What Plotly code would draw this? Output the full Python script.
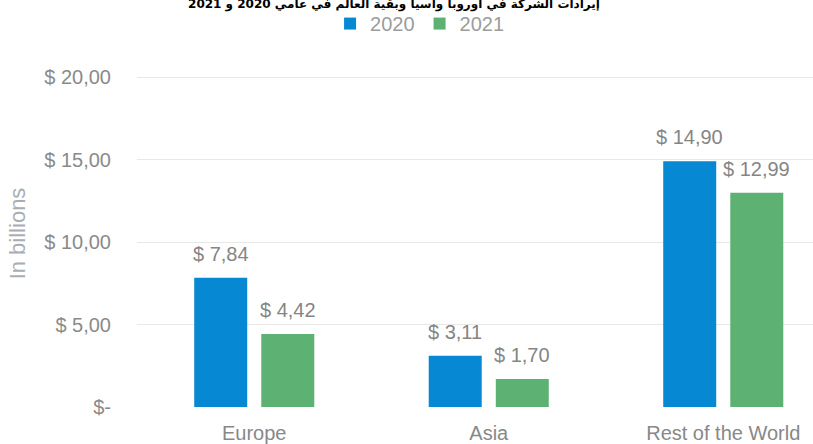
import plotly.graph_objects as go

# Revenue by region, in billions of dollars
regions = ["Europe", "Asia", "Rest of the World"]
years = ["2020", "2021"]
values_2020 = [7.84, 3.11, 14.90]
values_2021 = [4.42, 1.70, 12.99]

y_tick_vals = [0, 5, 10, 15, 20]
y_tick_text = ["$-", "$ 5,00", "$ 10,00", "$ 15,00", "$ 20,00"]

title_text = "إيرادات الشركة في أوروبا وآسيا وبقية العالم في عامي 2020 و 2021"
axis_title = "In billions"

colors = {"2020": "#0788D3", "2021": "#5DB173"}

BAR_W = 0.226      # bar width in category units
BLUE_OFF = -0.256  # offset of the 2020 bar from the category centre
GREEN_OFF = 0.030  # offset of the 2021 bar from the category centre
PX_PER_CAT = 234.5
FONT = "Liberation Sans, Arial"


def money(v):
    return "$ " + f"{v:.2f}".replace(".", ",")


fig = go.Figure()
for year, vals, off in [("2020", values_2020, BLUE_OFF), ("2021", values_2021, GREEN_OFF)]:
    fig.add_trace(go.Bar(
        name=year, x=regions, y=vals,
        width=BAR_W, offset=off,
        marker=dict(color=colors[year], line=dict(width=0)),
        hoverinfo="skip",
    ))
    # value labels above each bar
    centre_px = (off + BAR_W / 2) * PX_PER_CAT
    for r, v in zip(regions, vals):
        fig.add_annotation(
            x=r, y=v, text=money(v), showarrow=False,
            xshift=centre_px, yshift=11, yanchor="bottom",
            font=dict(family=FONT, size=20, color="#858585"),
        )

fig.update_layout(
    width=813, height=444,
    margin=dict(l=137, r=0, t=60, b=37, autoexpand=False),
    paper_bgcolor="white", plot_bgcolor="white",
    barmode="overlay",
    font=dict(family=FONT, size=20, color="#888888"),
    title=dict(
        text=title_text, x=394 / 813, xanchor="center",
        y=0.992, yanchor="middle", yref="container",
        font=dict(family="DejaVu Sans", size=12, color="#000000", weight="bold"),
    ),
    legend=dict(
        orientation="h", x=0.418, xanchor="center",
        y=1.105, yanchor="middle",
        font=dict(family=FONT, size=20, color="#9c9c9c"), itemwidth=30,
        traceorder="normal",
    ),
    showlegend=True,
)

fig.update_xaxes(
    type="category", range=[-0.5, -0.5 + (813 - 137) / PX_PER_CAT],
    showgrid=False, showline=False, zeroline=False, ticks="",
    ticklabelstandoff=12, automargin=False,
    tickfont=dict(family=FONT, size=20, color="#888888"),
)
fig.update_yaxes(
    range=[0, 347 / 16.5], tickvals=y_tick_vals, ticktext=y_tick_text,
    showgrid=True, gridcolor="#E8E8E8", gridwidth=1,
    zeroline=False, showline=False, ticks="",
    ticklabelstandoff=25, automargin=False,
    tickfont=dict(family=FONT, size=20, color="#8a8a8a"),
    title=dict(text=axis_title, standoff=12, font=dict(family=FONT, size=22, color="#A8AEB4")),
)

fig.write_html("out.html")
